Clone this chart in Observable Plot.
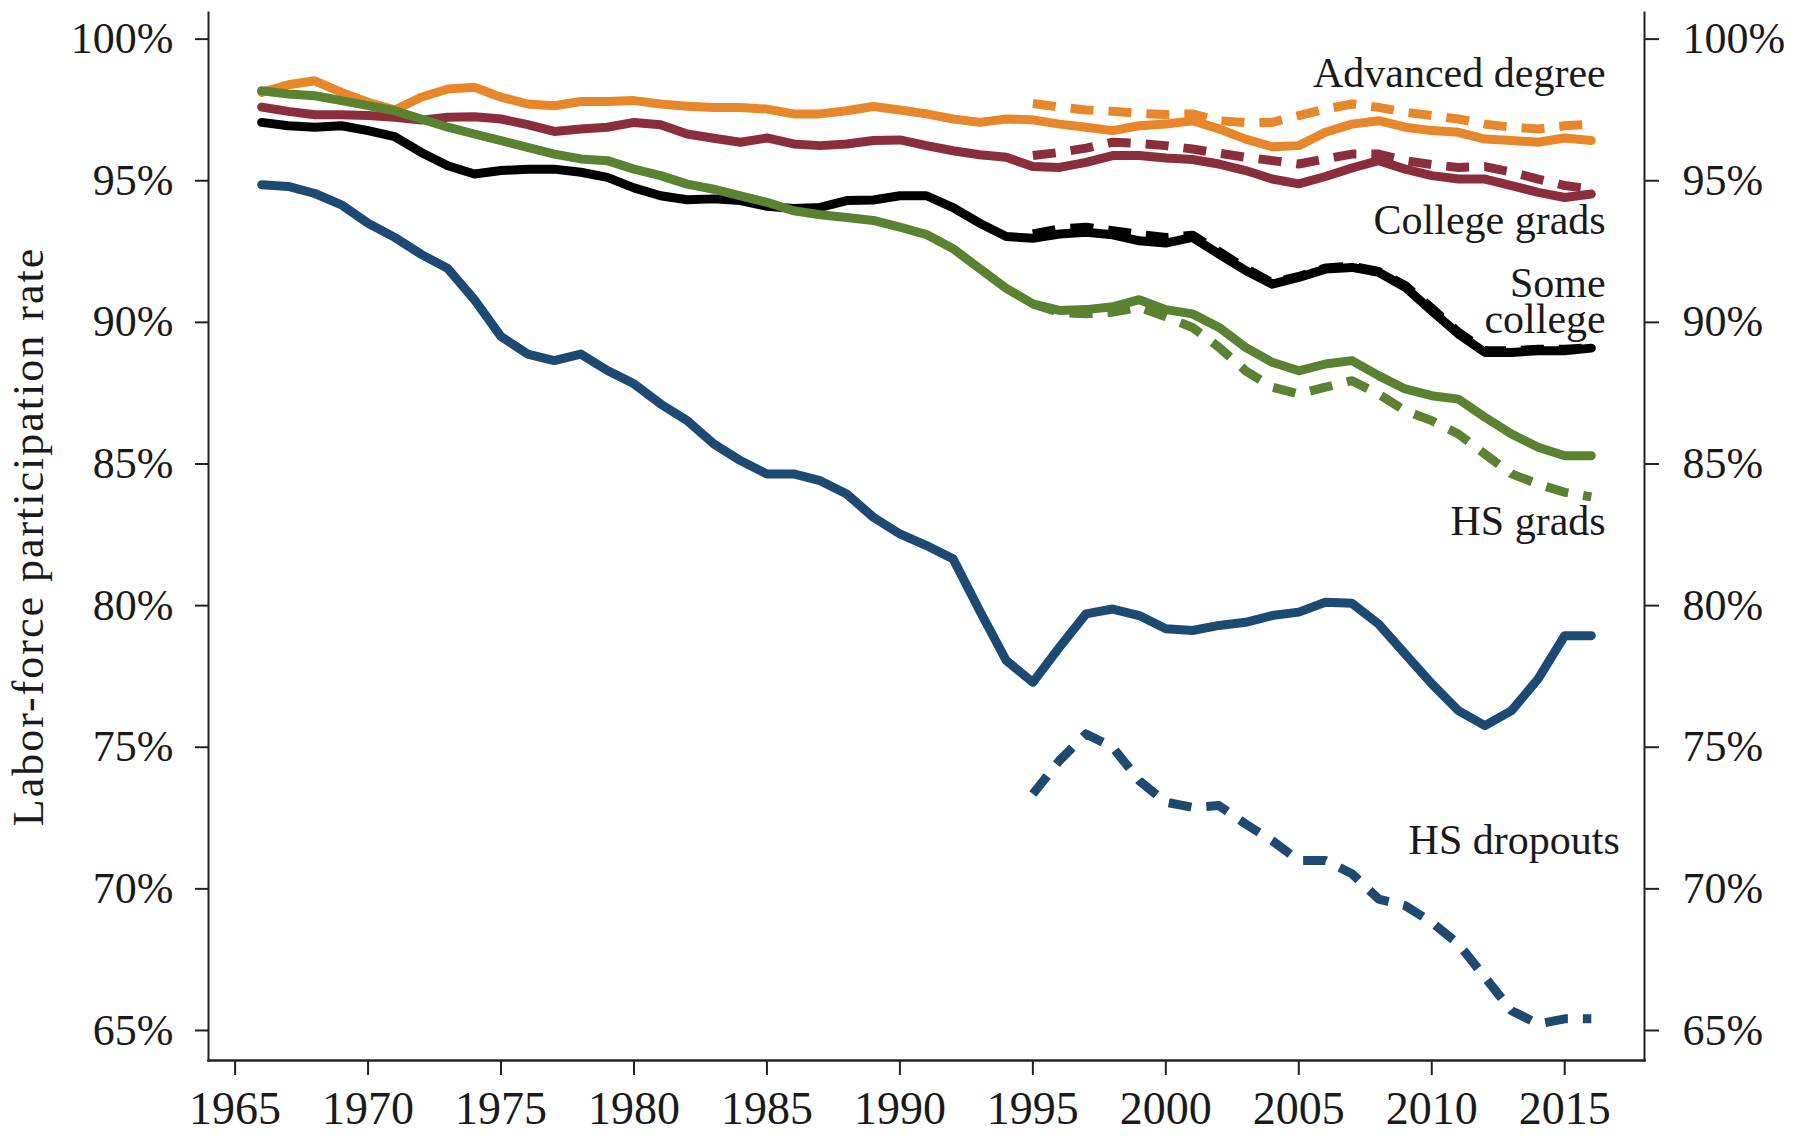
<!DOCTYPE html>
<html>
<head>
<meta charset="utf-8">
<script src="https://cdn.jsdelivr.net/npm/d3@7"></script>
<script src="https://cdn.jsdelivr.net/npm/@observablehq/plot@0.6"></script>
<style>
  html, body { margin: 0; padding: 0; background: #fff; }
  #chart { width: 1800px; height: 1136px; }
</style>
</head>
<body>
<div id="chart"></div>
<script>
// ---------- data ----------
const years = [1966,1967,1968,1969,1970,1971,1972,1973,1974,1975,1976,1977,1978,1979,1980,
  1981,1982,1983,1984,1985,1986,1987,1988,1989,1990,1991,1992,1993,1994,1995,1996,1997,1998,
  1999,2000,2001,2002,2003,2004,2005,2006,2007,2008,2009,2010,2011,2012,2013,2014,2015,2016];
const dashYears = [1995,1996,1997,1998,1999,2000,2001,2002,2003,2004,2005,2006,2007,2008,
  2009,2010,2011,2012,2013,2014,2015,2016];

const seriesNames = ["Advanced degree", "College grads", "Some college", "HS grads", "HS dropouts"];
const seriesColors = ["#E8862A", "#8B2E3B", "#000000", "#5A8231", "#1C4A73"];

// solid lines (1966-2016)
const advanced = [98.12,98.39,98.53,98.12,97.77,97.5,97.95,98.24,98.3,97.95,97.71,97.65,97.8,97.8,97.83,
  97.71,97.63,97.59,97.59,97.53,97.36,97.36,97.47,97.62,97.5,97.36,97.18,97.06,97.18,97.15,97.0,96.89,96.77,
  96.94,97.0,97.12,96.83,96.47,96.2,96.24,96.71,97.0,97.12,96.89,96.77,96.71,96.47,96.42,96.36,96.51,96.42];
const college = [97.6,97.45,97.33,97.33,97.3,97.24,97.14,97.24,97.26,97.18,96.98,96.74,96.83,96.89,97.06,
  96.98,96.65,96.5,96.36,96.51,96.3,96.24,96.3,96.42,96.44,96.24,96.06,95.92,95.83,95.5,95.47,95.65,95.89,
  95.89,95.8,95.75,95.59,95.36,95.06,94.89,95.15,95.45,95.71,95.41,95.18,95.06,95.06,94.83,94.59,94.41,94.53];
const someCollege = [97.06,96.94,96.89,96.94,96.77,96.56,96.0,95.53,95.24,95.36,95.41,95.41,95.3,95.12,94.75,
  94.47,94.33,94.36,94.3,94.1,94.02,94.06,94.3,94.32,94.47,94.47,94.05,93.5,93.03,92.97,93.12,93.18,93.09,
  92.88,92.8,93.0,92.41,91.83,91.35,91.59,91.88,91.94,91.77,91.24,90.41,89.59,88.94,88.94,89.0,89.0,89.09];
const hsGrads = [98.18,98.06,98.0,97.83,97.65,97.47,97.18,96.89,96.65,96.42,96.18,95.94,95.77,95.71,95.41,
  95.18,94.88,94.7,94.47,94.24,93.94,93.8,93.7,93.6,93.36,93.1,92.6,91.9,91.2,90.65,90.42,90.45,90.55,
  90.8,90.45,90.3,89.82,89.12,88.59,88.29,88.53,88.65,88.12,87.65,87.41,87.29,86.65,86.06,85.59,85.29,85.29];
const dropouts = [94.86,94.8,94.55,94.15,93.5,93.0,92.4,91.9,90.8,89.5,88.88,88.65,88.88,88.3,87.83,
  87.12,86.53,85.71,85.12,84.65,84.65,84.41,83.94,83.12,82.53,82.12,81.65,79.82,78.06,77.29,78.53,79.71,79.88,
  79.65,79.18,79.12,79.3,79.41,79.65,79.77,80.12,80.08,79.35,78.29,77.24,76.29,75.76,76.29,77.41,78.94,78.94];

// dashed lines (1995-2016)
const advancedDash = [97.73,97.6,97.5,97.45,97.38,97.34,97.36,97.12,97.05,97.06,97.3,97.53,97.71,97.59,
  97.42,97.3,97.18,97.0,96.89,96.83,96.94,97.0];
const collegeDash = [95.89,96.0,96.15,96.36,96.32,96.24,96.12,95.97,95.83,95.71,95.59,95.77,95.94,95.94,
  95.71,95.57,95.47,95.5,95.3,95.06,94.83,94.71];
const someCollegeDash = [93.12,93.3,93.36,93.24,93.1,93.0,93.08,92.5,91.9,91.4,91.62,91.92,91.98,91.8,
  91.3,90.5,89.65,89.0,89.0,89.05,89.05,89.1];
const hsGradsDash = [90.65,90.35,90.3,90.36,90.53,90.2,89.82,89.12,88.29,87.71,87.47,87.71,87.94,87.47,
  86.88,86.53,86.06,85.35,84.65,84.29,84.0,83.84];
const dropoutsDash = [73.35,74.53,75.47,75.0,73.82,73.06,72.88,72.94,72.29,71.7,71.0,71.0,70.53,69.64,
  69.41,68.82,68.06,66.88,65.7,65.23,65.41,65.41];

// ticks
const xTicks = [1965,1970,1975,1980,1985,1990,1995,2000,2005,2010,2015];
const yTicks = [65,70,75,80,85,90,95,100];
const xDomain = [1964, 2018];
const yDomain = [63.94, 100.94];

// line labels
const labelTexts = ["Advanced degree", "College grads", "Some\ncollege", "HS grads", "HS dropouts"];
const labelYears = [2016.54, 2016.54, 2016.54, 2016.54, 2017.07];
const labelRates = [98.71, 93.54, 90.66, 82.89, 71.65];

const yTitle = "Labor-force participation rate";

// ---------- build tables ----------
const solidSeries = [advanced, college, someCollege, hsGrads, dropouts];
const dashSeries = [advancedDash, collegeDash, someCollegeDash, hsGradsDash, dropoutsDash];
const solidRows = [];
seriesNames.forEach((s, i) => years.forEach((yr, j) => solidRows.push({series: s, year: yr, rate: solidSeries[i][j]})));
const dashRows = [];
seriesNames.forEach((s, i) => dashYears.forEach((yr, j) => dashRows.push({series: s, year: yr, rate: dashSeries[i][j]})));
const labelRows = labelTexts.map((t, i) => ({label: t, year: labelYears[i], rate: labelRates[i]}));

const FONT = "'Liberation Serif', 'Times New Roman', serif";

const chart = Plot.plot({
  width: 1800,
  height: 1136,
  marginLeft: 208,
  marginRight: 156,
  marginTop: 12,
  marginBottom: 76,
  style: {fontFamily: FONT, background: "#fff", color: "#1a1a1a"},
  x: {domain: xDomain, axis: null},
  y: {domain: yDomain, axis: null},
  color: {domain: seriesNames, range: seriesColors},
  marks: [
    Plot.frame({anchor: "left", stroke: "#222", strokeWidth: 2}),
    Plot.frame({anchor: "right", stroke: "#222", strokeWidth: 2}),
    Plot.frame({anchor: "bottom", stroke: "#222", strokeWidth: 2.5}),
    Plot.axisY(yTicks, {anchor: "left", tickSize: 13, tickPadding: 22, tickFormat: d => d + "%",
      fontSize: 44, stroke: "#222", strokeWidth: 2, fill: "#1a1a1a", label: null}),
    Plot.axisY(yTicks, {anchor: "right", tickSize: 14, tickPadding: 24, tickFormat: d => d + "%",
      fontSize: 44, stroke: "#222", strokeWidth: 2, fill: "#1a1a1a", label: null}),
    Plot.axisX(xTicks, {anchor: "bottom", tickSize: 15, tickPadding: 16, tickFormat: d => String(d),
      fontSize: 46, stroke: "#222", strokeWidth: 2, fill: "#1a1a1a", label: null}),
    Plot.line(solidRows, {x: "year", y: "rate", z: "series", stroke: "series",
      strokeWidth: 9, strokeLinejoin: "round", strokeLinecap: "round"}),
    Plot.line(dashRows, {x: "year", y: "rate", z: "series", stroke: "series",
      strokeWidth: 9, strokeLinejoin: "round", strokeLinecap: "butt", strokeDasharray: "23,15"}),
    Plot.text(labelRows, {x: "year", y: "rate", text: "label", textAnchor: "end",
      fontSize: 42, lineHeight: 0.86, fill: "#1a1a1a"}),
    Plot.text([yTitle], {text: d => d, frameAnchor: "left", textAnchor: "middle", lineAnchor: "middle",
      rotate: -90, dx: -180, fontSize: 44, fill: "#1a1a1a"})
  ]
});

d3.select(chart).selectAll("text")
  .filter(function() { return this.textContent === yTitle; })
  .style("letter-spacing", "2px");

document.getElementById("chart").appendChild(chart);
</script>
</body>
</html>
